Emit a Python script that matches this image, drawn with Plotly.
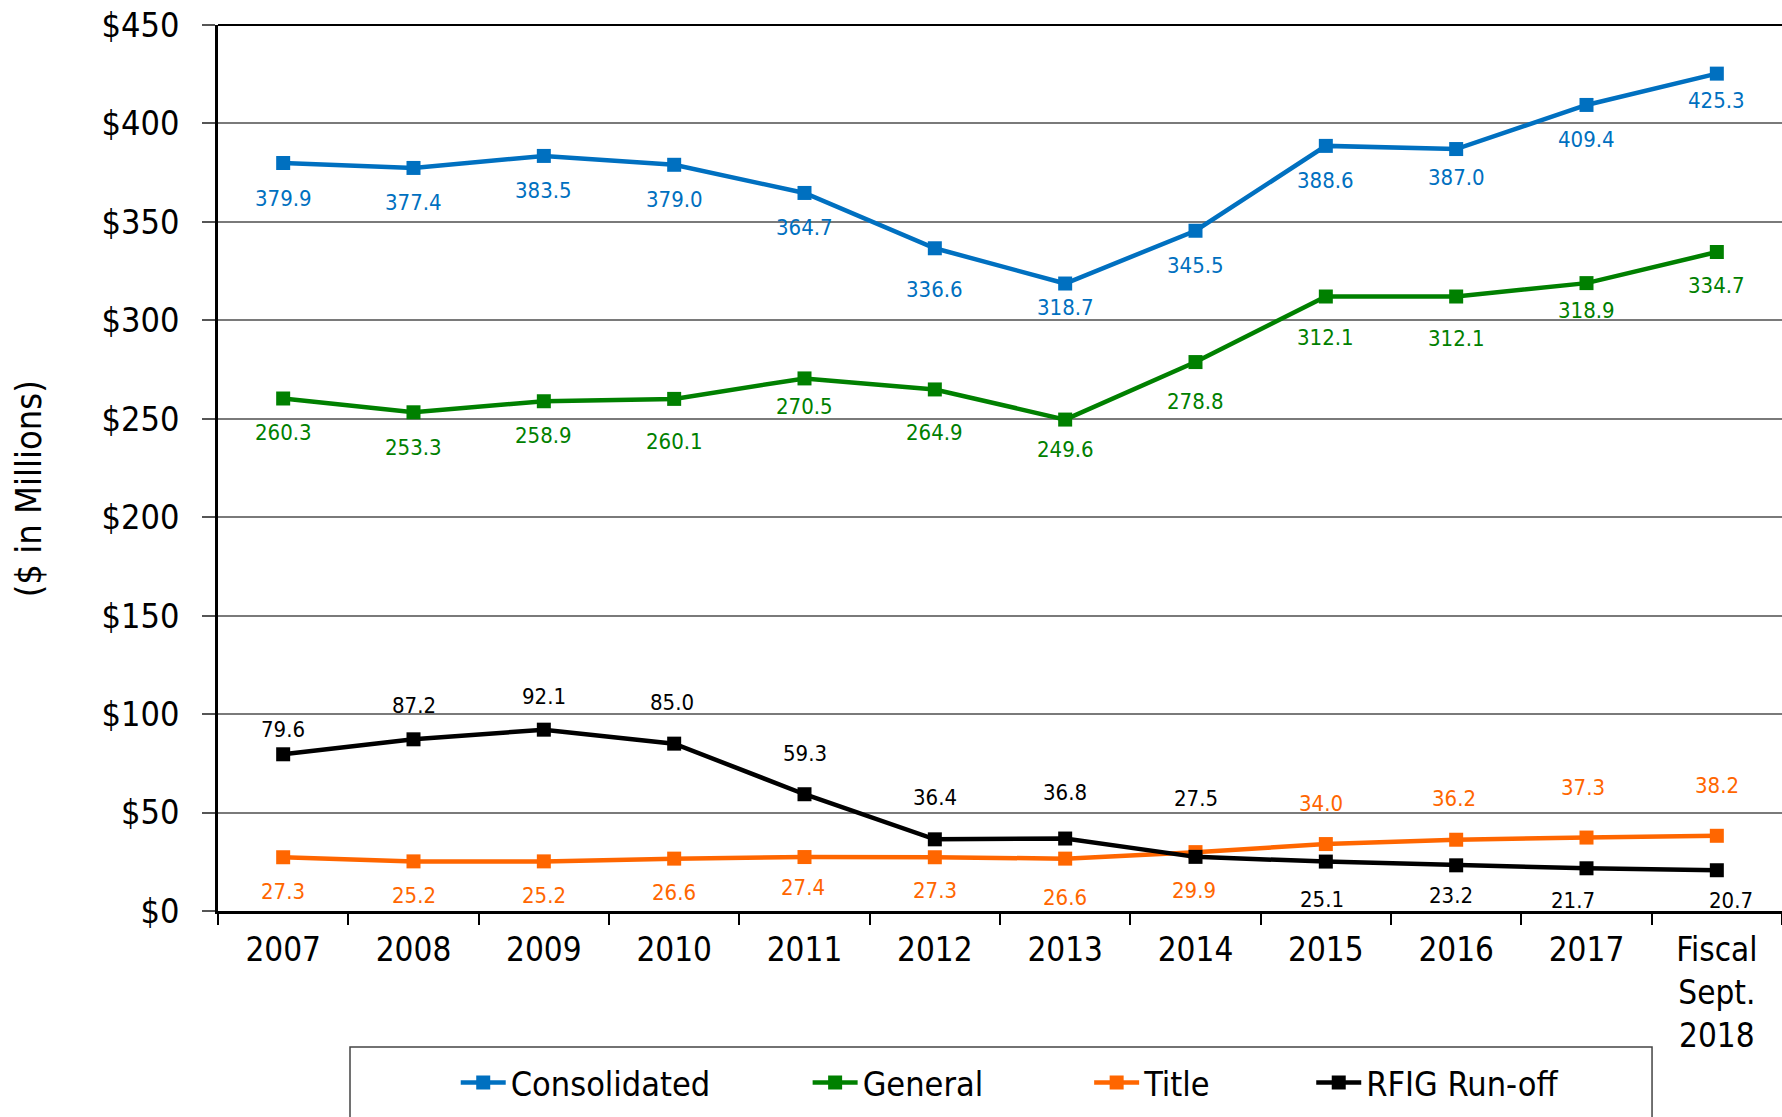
import plotly.graph_objects as go

# ---- data -------------------------------------------------------------
years = ["2007", "2008", "2009", "2010", "2011", "2012", "2013", "2014",
         "2015", "2016", "2017", "Fiscal<br>Sept.<br>2018"]
consolidated = [379.9, 377.4, 383.5, 379.0, 364.7, 336.6, 318.7, 345.5,
                388.6, 387.0, 409.4, 425.3]
general = [260.3, 253.3, 258.9, 260.1, 270.5, 264.9, 249.6, 278.8,
           312.1, 312.1, 318.9, 334.7]
title_ins = [27.3, 25.2, 25.2, 26.6, 27.4, 27.3, 26.6, 29.9,
             34.0, 36.2, 37.3, 38.2]
rfig_runoff = [79.6, 87.2, 92.1, 85.0, 59.3, 36.4, 36.8, 27.5,
               25.1, 23.2, 21.7, 20.7]
y_tick_vals = [0, 50, 100, 150, 200, 250, 300, 350, 400, 450]
y_tick_text = ["$0", "$50", "$100", "$150", "$200", "$250", "$300",
               "$350", "$400", "$450"]

# ---- styling ----------------------------------------------------------
FONT = "Liberation Sans Narrow, Arial Narrow, DejaVu Sans Condensed, sans-serif"

# value-label offsets in pixels (positive = up / right)
label_dy = {
    "Consolidated": [-35, -35, -35, -35, -35, -41, -24, -35, -35, -28, -35, -27],
    "General": [-34, -35, -34, -43, -28, -43, -30, -39, -41, -42, -27, -33],
    "Title": [-34, -34, -34, -34, -30, -33, -39, -38, 41, 41, 50, 50],
    "RFIG Run-off": [25, 34, 33, 41, 41, 42, 46, 58, -38, -30, -32, -30],
}
label_dx = {
    "Consolidated": [0] * 12,
    "General": [0] * 12,
    "Title": [0, 0, 0, 0, -2, 0, 0, -2, -5, -2, -4, 0],
    "RFIG Run-off": [0, 0, 0, -2, 0, 0, 0, 0, -4, -5, -14, 14],
}

series = [
    ("Consolidated", consolidated, "#0070C0", "legend", 0.152),
    ("General", general, "#008000", "legend2", 0.377),
    ("Title", title_ins, "#FF6600", "legend3", 0.557),
    ("RFIG Run-off", rfig_runoff, "#000000", "legend4", 0.699),
]

fig = go.Figure()
annotations = []
legends = {}

for name, vals, color, leg, lx in series:
    fig.add_trace(go.Scatter(
        x=years, y=vals, name=name, mode="lines+markers",
        line=dict(color=color, width=4.5),
        marker=dict(symbol="square", size=14, color=color),
        legend=leg, cliponaxis=False,
    ))
    # value labels, placed at each category's index on the category axis
    for i, v in enumerate(vals):
        annotations.append(dict(
            x=i, y=v, xref="x", yref="y", text=f"{v:.1f}",
            showarrow=False, yshift=label_dy[name][i], xshift=label_dx[name][i],
            font=dict(family=FONT, size=22, color=color),
        ))
    legends[leg] = dict(
        x=lx, y=-0.194, xanchor="left", yanchor="middle",
        orientation="h", bgcolor="rgba(0,0,0,0)", borderwidth=0,
        font=dict(family=FONT, size=34, color="#000000"),
        itemwidth=45,
    )

# y-axis title
annotations.append(dict(
    x=-0.1215, y=0.477, xref="paper", yref="paper", text="($ in Millions)",
    textangle=-90, showarrow=False, xanchor="center", yanchor="middle",
    font=dict(family=FONT, size=36, color="#000000"),
))

fig.update_layout(
    width=1782, height=1117,
    margin=dict(l=218, r=0, t=25, b=206),
    paper_bgcolor="white", plot_bgcolor="white",
    showlegend=True,
    annotations=annotations,
    font=dict(family=FONT, size=33, color="#000000"),
    xaxis=dict(
        type="category", range=[-0.5, 11.5],
        showgrid=False, showline=True, linecolor="#000000", linewidth=2.5,
        ticks="outside", tickson="boundaries", ticklen=11, tickcolor="#000000",
        tickwidth=1.5, tickfont=dict(family=FONT, size=33, color="#000000"),
        ticklabelstandoff=8, automargin=False,
    ),
    yaxis=dict(
        range=[0, 450], tickvals=y_tick_vals, ticktext=y_tick_text,
        showgrid=True, gridcolor="#7a7a7a", gridwidth=1.5,
        showline=True, linecolor="#000000", linewidth=2.5,
        ticks="outside", ticklen=13, tickcolor="#555555", tickwidth=1.5,
        tickfont=dict(family=FONT, size=34, color="#000000"),
        ticklabelstandoff=16, automargin=False, zeroline=False,
    ),
    shapes=[
        # top border of the plot area
        dict(type="line", xref="paper", yref="paper", x0=0, x1=1, y0=1, y1=1,
             line=dict(color="#000000", width=2)),
        # legend frame
        dict(type="rect", xref="paper", yref="paper",
             x0=0.0844, x1=0.9169, y0=-0.26, y1=-0.1535,
             line=dict(color="#444444", width=1.5), fillcolor="rgba(0,0,0,0)"),
    ],
    **legends,
)

fig.write_html("out.html")
